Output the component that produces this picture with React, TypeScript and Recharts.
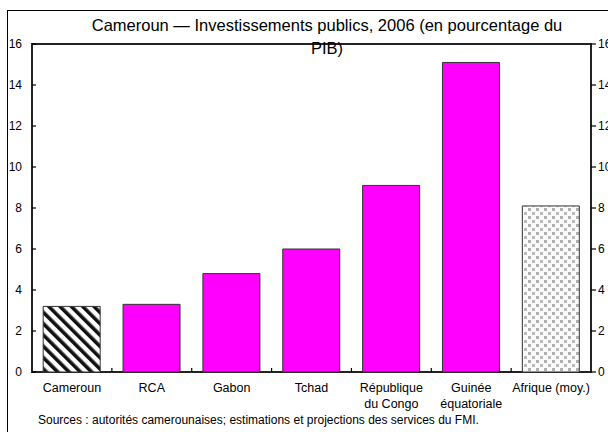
import React from "react";
import { BarChart, Bar, XAxis, YAxis, Cell, ReferenceArea } from "recharts";

const categories = ["Cameroun", "RCA", "Gabon", "Tchad", "République\ndu Congo", "Guinée\néquatoriale", "Afrique (moy.)"];
const values = [3.2, 3.3, 4.8, 6.0, 9.1, 15.1, 8.1];
const fills = ["url(#stripes)", "#ff00ff", "#ff00ff", "#ff00ff", "#ff00ff", "#ff00ff", "url(#dots)"];
const yTicks = [0, 2, 4, 6, 8, 10, 12, 14, 16];
const titleLines = ["Cameroun — Investissements publics, 2006 (en pourcentage du", "PIB)"];
const sourceText = "Sources : autorités camerounaises; estimations et projections des services du FMI.";

const data = categories.map((c, i) => ({ name: c, value: values[i] }));

const FONT = '"Liberation Sans", Arial, Helvetica, sans-serif';
const W = 608;
const H = 432;
const MARGIN = { top: 44, right: 17, bottom: 10, left: 2 };
const LEFT_W = 30;
const PLOT_RIGHT = W - MARGIN.right;

const XTick = (props: any) => {
  const { x, y, payload, width, index } = props;
  const band = (width || PLOT_RIGHT - MARGIN.left - LEFT_W) / categories.length;
  const lines = String(payload.value).split("\n");
  return (
    <g>
      {index < categories.length - 1 && (
        <line x1={x + band / 2} x2={x + band / 2} y1={y} y2={y - 4} stroke="#000" strokeWidth={1.2} />
      )}
      <text x={x} y={y} textAnchor="middle" fontFamily={FONT} fontSize={12.5} fill="#000">
        {lines.map((l, i) => (
          <tspan key={i} x={x} dy={i === 0 ? 20 : 16}>
            {l}
          </tspan>
        ))}
      </text>
    </g>
  );
};

const YTick = (props: any) => {
  const { x, y, payload } = props;
  return (
    <g>
      <line x1={x} x2={x + 4} y1={y} y2={y} stroke="#000" strokeWidth={1.2} />
      <text x={x - 10} y={y} dy={4} textAnchor="end" fontFamily={FONT} fontSize={12} fill="#000">
        {payload.value}
      </text>
      <line x1={PLOT_RIGHT} x2={PLOT_RIGHT + 5} y1={y} y2={y} stroke="#000" strokeWidth={1.2} />
      <text x={PLOT_RIGHT + 7} y={y} dy={4} textAnchor="start" fontFamily={FONT} fontSize={12} fill="#000">
        {payload.value}
      </text>
    </g>
  );
};

export default function App() {
  return (
    <div style={{ position: "absolute", left: 0, top: 0, width: W, height: H, overflow: "hidden", background: "#fff" }}>
      <div
        style={{
          position: "absolute",
          left: 7,
          top: 10,
          width: 700,
          height: 500,
          borderLeft: "1px solid #000",
          borderTop: "1px solid #000",
        }}
      />
      <div style={{ position: "absolute", left: 0, top: 0 }}>
        <BarChart width={W} height={H} data={data} margin={MARGIN} barCategoryGap="14%">
          <defs>
            <pattern id="stripes" patternUnits="userSpaceOnUse" width={8} height={8} patternTransform="rotate(-45)">
              <rect x={0} y={0} width={8} height={8} fill="#fff" />
              <rect x={0} y={0} width={3.6} height={8} fill="#111" />
            </pattern>
            <pattern id="dots" patternUnits="userSpaceOnUse" width={8} height={8}>
              <rect x={0} y={0} width={8} height={8} fill="#fafafa" />
              <rect x={0} y={0} width={3} height={3} fill="#b0b0b0" />
              <rect x={4} y={4} width={3} height={3} fill="#bcbcbc" />
            </pattern>
          </defs>
          <XAxis
            dataKey="name"
            interval={0}
            height={50}
            tickLine={false}
            tickSize={0}
            tickMargin={0}
            axisLine={false}
            tick={<XTick />}
          />
          <YAxis
            yAxisId="left"
            orientation="left"
            width={LEFT_W}
            domain={[0, 16]}
            ticks={yTicks}
            interval={0}
            tickLine={false}
            tickSize={0}
            tickMargin={0}
            axisLine={false}
            tick={<YTick />}
          />
          <Bar dataKey="value" yAxisId="left" isAnimationActive={false} stroke="#333" strokeWidth={1}>
            {data.map((d, i) => (
              <Cell key={d.name} fill={fills[i]} />
            ))}
          </Bar>
          <ReferenceArea yAxisId="left" y1={0} y2={16} fill="none" fillOpacity={0} stroke="#222" strokeWidth={2} />
        </BarChart>
      </div>
      <div
        style={{
          position: "absolute",
          left: 27,
          top: 14,
          width: 600,
          textAlign: "center",
          fontFamily: FONT,
          fontSize: 16.5,
          lineHeight: "23px",
          color: "#000",
        }}
      >
        {titleLines.map((l) => (
          <div key={l}>{l}</div>
        ))}
      </div>
      <div
        style={{
          position: "absolute",
          left: 38,
          top: 413,
          fontFamily: FONT,
          fontSize: 12,
          lineHeight: "14px",
          color: "#000",
          whiteSpace: "nowrap",
        }}
      >
        {sourceText}
      </div>
    </div>
  );
}
